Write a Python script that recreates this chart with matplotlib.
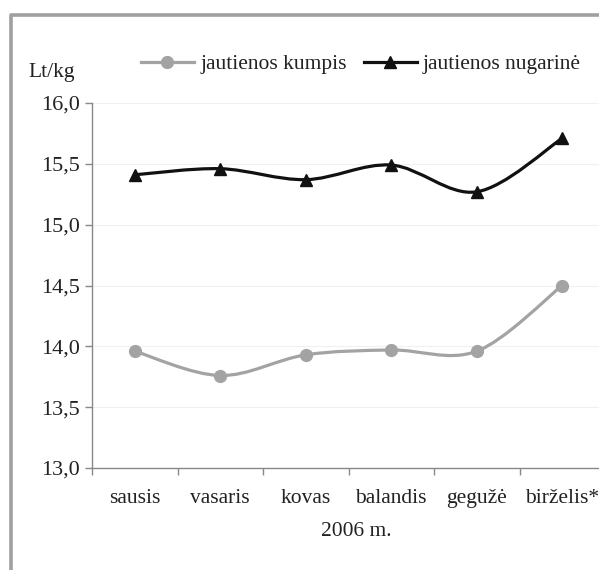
import matplotlib
matplotlib.use("Agg")
import matplotlib.pyplot as plt
from matplotlib.path import Path
from matplotlib.patches import PathPatch
from matplotlib.lines import Line2D

# duomenys
menesiai = ["sausis", "vasaris", "kovas", "balandis", "gegužė", "birželis*"]
kumpis = [13.96, 13.76, 13.93, 13.97, 13.96, 14.50]
nugarine = [15.41, 15.46, 15.37, 15.49, 15.27, 15.71]
y_ticks = [13.0, 13.5, 14.0, 14.5, 15.0, 15.5, 16.0]
y_labels = ["13,0", "13,5", "14,0", "14,5", "15,0", "15,5", "16,0"]

plt.rcParams["font.family"] = ["Liberation Serif", "DejaVu Serif"]

PILKA = "#a3a3a3"
JUODA = "#111111"


def glotni_linija(xs, ys):
    """Excel stiliaus suglodinta linija (Bezier kreives per taskus)"""
    n = len(xs)
    verts = [(xs[0], ys[0])]
    codes = [Path.MOVETO]
    for i in range(n - 1):
        a = max(i - 1, 0)
        b = min(i + 2, n - 1)
        c1 = (xs[i] + (xs[i + 1] - xs[a]) / 6, ys[i] + (ys[i + 1] - ys[a]) / 6)
        c2 = (xs[i + 1] - (xs[b] - xs[i]) / 6, ys[i + 1] - (ys[b] - ys[i]) / 6)
        verts += [c1, c2, (xs[i + 1], ys[i + 1])]
        codes += [Path.CURVE4] * 3
    return Path(verts, codes)


fig = plt.figure(figsize=(5.99, 5.70), dpi=100)
ax = fig.add_axes([92 / 599, 102 / 570, 513 / 599, 365 / 570])

x = list(range(len(menesiai)))

for reiksmes, spalva, zenklas, dydis in [(kumpis, PILKA, "o", 8.5),
                                          (nugarine, JUODA, "^", 9)]:
    ax.add_patch(PathPatch(glotni_linija(x, reiksmes), fill=False,
                           edgecolor=spalva, lw=2.3, zorder=3))
    ax.plot(x, reiksmes, linestyle="none", marker=zenklas, markersize=dydis,
            color=spalva, zorder=4, clip_on=False)

ax.set_xlim(-0.5, len(menesiai) - 0.5)
ax.set_ylim(13.0, 16.0)

ax.set_yticks(y_ticks)
ax.set_yticklabels(y_labels, fontsize=16, color="#222222")
ax.set_xticks([i - 0.5 for i in range(len(menesiai) + 1)])
ax.set_xticklabels([])
ax.set_xticks(x, minor=True)
ax.set_xticklabels(menesiai, minor=True, fontsize=15.5, color="#222222")

ax.tick_params(axis="y", length=5, width=1, color="#888888", pad=4)
ax.tick_params(axis="x", which="major", length=5, width=1, color="#888888")
ax.tick_params(axis="x", which="minor", length=0, pad=15)

for s in ["top", "right"]:
    ax.spines[s].set_visible(False)
for s in ["left", "bottom"]:
    ax.spines[s].set_color("#888888")
    ax.spines[s].set_linewidth(1)

ax.yaxis.grid(True, color="#f0f0f0", lw=0.8)
ax.set_axisbelow(True)

fig.text(52 / 599, 1 - 73 / 570, "Lt/kg", fontsize=15.5, color="#222222",
         ha="center", va="center")
fig.text(356 / 599, 1 - 532 / 570, "2006 m.", fontsize=15.5, color="#222222",
         ha="center", va="center")

# legenda
rankenos = [
    Line2D([], [], color=PILKA, lw=2.3, marker="o", markersize=8.5),
    Line2D([], [], color=JUODA, lw=2.3, marker="^", markersize=9),
]
fig.legend(rankenos, ["jautienos kumpis", "jautienos nugarinė"],
           loc="center", bbox_to_anchor=(361 / 599, 1 - 64 / 570), ncol=2,
           frameon=False, fontsize=15.5, handlelength=2.45, handletextpad=0.3,
           columnspacing=0.8, borderpad=0, labelcolor="#222222")

# pilkas remelis
fig.add_artist(Line2D([10.5 / 599, 10.5 / 599, 1.0],
                      [0.0, 1 - 15 / 570, 1 - 15 / 570],
                      transform=fig.transFigure, color="#a0a0a0", lw=2.6))

fig.savefig("out.png", dpi=100)
